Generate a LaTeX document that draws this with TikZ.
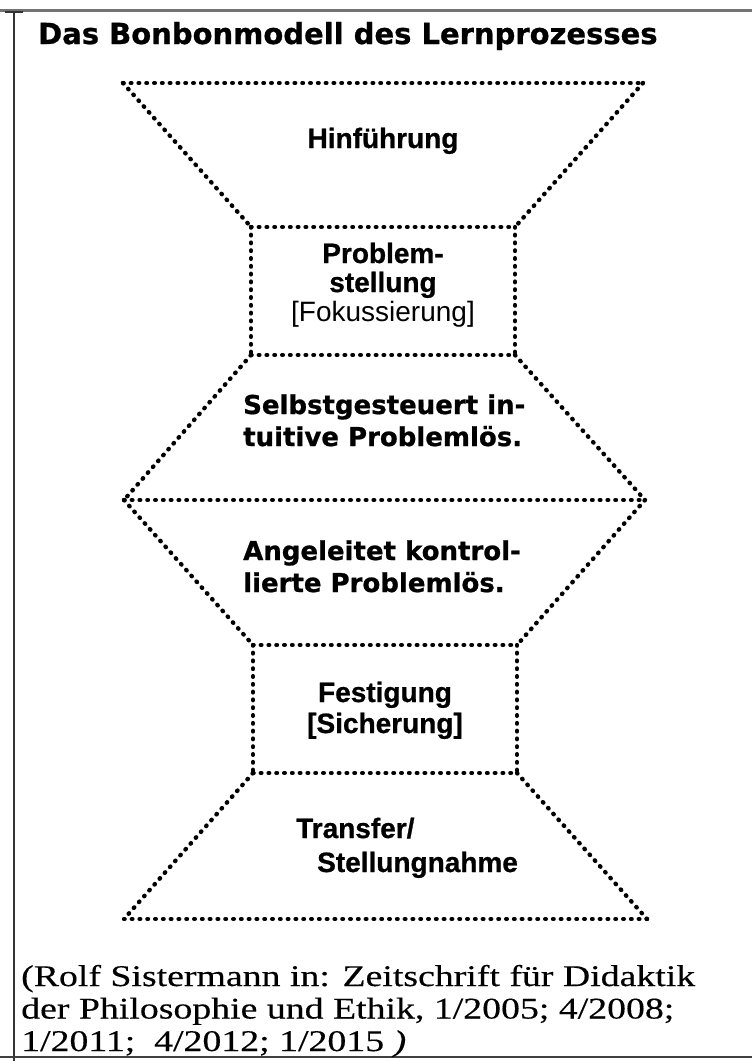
\documentclass[tikz,border=0pt]{standalone}
\usepackage{fontspec}
\usepackage{graphicx}
\newfontfamily\arialfont{Liberation Sans}[BoldFeatures={FakeBold=0.8}]
\newfontfamily\verdfont{DejaVu Sans}[BoldFeatures={FakeBold=0.8}]
\newfontfamily\timesfont{Liberation Serif}[FakeBold=0.3]
\tikzset{
  dotline/.style={line width=4.4pt, line cap=round, dash pattern=on 0.6pt off 7.2pt, black},
  frameline/.style={line width=2.2pt, black!80},
  arialbold/.style={font=\arialfont\bfseries\fontsize{28}{30}\selectfont, inner sep=0pt, anchor=base},
  arialreg/.style={font=\arialfont\fontsize{28}{30}\selectfont, inner sep=0pt, anchor=base},
  verdbold/.style={font=\verdfont\bfseries\fontsize{26}{30}\selectfont, inner sep=0pt, anchor=base west},
}
\begin{document}
\begin{tikzpicture}[x=1pt,y=-1pt]
\useasboundingbox (0,0) rectangle (752,1061);
% frame
\draw[line width=3pt, black!55] (0,10) -- (752,10);
\draw[frameline] (14,12) -- (14,1061);
\draw[frameline] (5,12) -- (23,12);
\draw[line width=1.6pt, black!75] (0,1057) -- (752,1057);
% corner coordinates
\coordinate (t1) at (123,83);
\coordinate (t2) at (643,83);
\coordinate (p1) at (251,227);
\coordinate (p2) at (515,227);
\coordinate (p3) at (251,355);
\coordinate (p4) at (515,355);
\coordinate (h1) at (124,500);
\coordinate (h2) at (645,500);
\coordinate (f1) at (253,645);
\coordinate (f2) at (517,645);
\coordinate (f3) at (253,773);
\coordinate (f4) at (517,773);
\coordinate (b1) at (124,919);
\coordinate (b2) at (647,919);
% top trapezoid
\draw[dotline] (t1) -- (t2);
\draw[dotline] (t1) -- (p1);
\draw[dotline] (t2) -- (p2);
% problem box
\draw[dotline] (p1) -- (p2);
\draw[dotline] (p1) -- (p3);
\draw[dotline] (p2) -- (p4);
\draw[dotline] (p3) -- (p4);
% hexagon
\draw[dotline] (p3) -- (h1);
\draw[dotline] (p4) -- (h2);
\draw[dotline] (h1) -- (h2);
\draw[dotline] (h1) -- (f1);
\draw[dotline] (h2) -- (f2);
% festigung box
\draw[dotline] (f1) -- (f2);
\draw[dotline] (f1) -- (f3);
\draw[dotline] (f2) -- (f4);
\draw[dotline] (f3) -- (f4);
% bottom trapezoid
\draw[dotline] (f3) -- (b1);
\draw[dotline] (f4) -- (b2);
\draw[dotline] (b1) -- (b2);
% texts
\node[font=\verdfont\bfseries\fontsize{29}{32}\selectfont, inner sep=0pt, anchor=base west] (title) at (38,44) {Das Bonbonmodell des Lernprozesses};
\node[arialbold] (hin) at (383,148) {Hinführung};
\node[arialbold] (prob1) at (383,263) {Problem-};
\node[arialbold] (prob2) at (383,292) {stellung};
\node[arialreg] (prob3) at (383,321) {[Fokussierung]};
\node[verdbold] (sel1) at (243,414) {Selbstgesteuert in-};
\node[verdbold] (sel2) at (243,446) {tuitive Problemlös.};
\node[verdbold] (ang1) at (243,560) {Angeleitet kontrol-};
\node[verdbold] (ang2) at (243,592) {lierte Problemlös.};
\node[arialbold] (fest1) at (385,702) {Festigung};
\node[arialbold] (fest2) at (385,733) {[Sicherung]};
\node[arialbold, anchor=base west] (tr1) at (296,838) {Transfer/};
\node[arialbold, anchor=base west] (tr2) at (317,872) {Stellungnahme};
\node[inner sep=0pt, anchor=base west] (cite) at (21,986) {\scalebox{1.26}[1]{\timesfont\fontsize{30}{32.5}\selectfont\begin{tabular}[t]{@{}l@{}}(Rolf Sistermann in: Zeitschrift für Didaktik\\der Philosophie und Ethik, 1/2005; 4/2008;\\1/2011;\ \ 4/2012; 1/2015 \textit{)}\end{tabular}}};
\end{tikzpicture}
\end{document}
